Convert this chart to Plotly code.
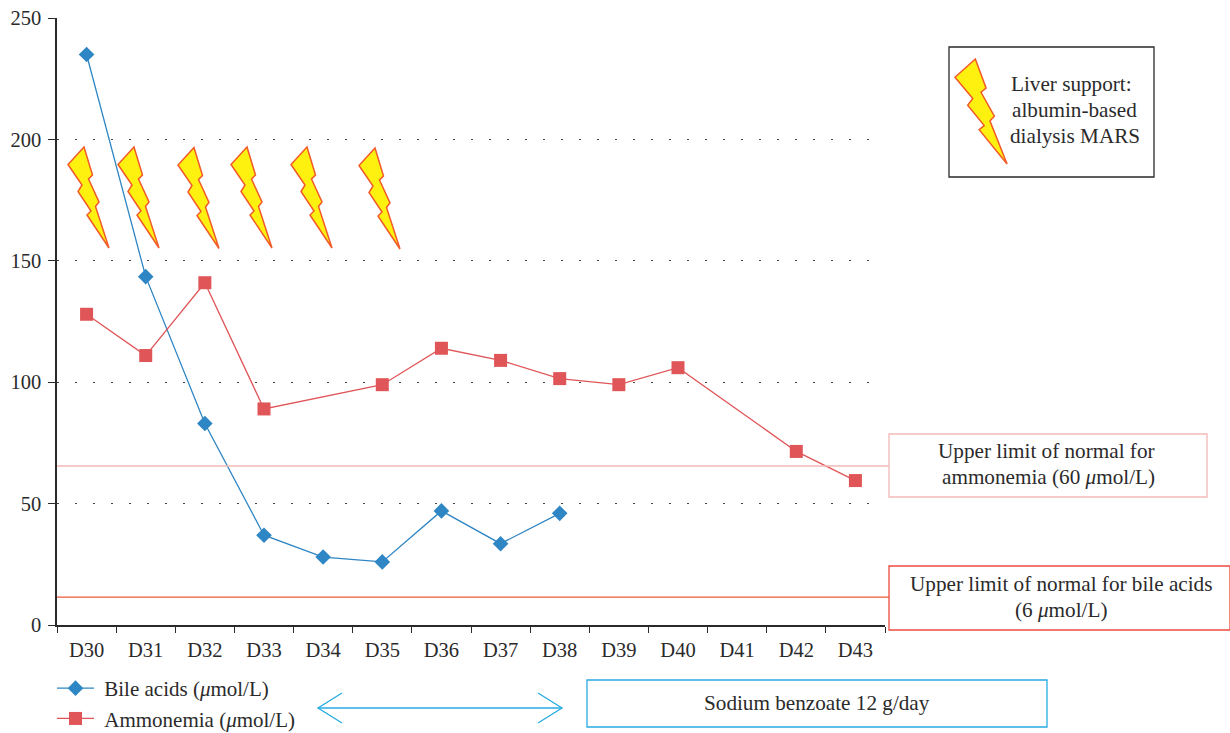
import plotly.graph_objects as go

days = ["D30","D31","D32","D33","D34","D35","D36","D37","D38","D39","D40","D41","D42","D43"]
bile_acids = [235, 143.5, 83, 37, 28, 26, 47, 33.5, 46, None, None, None, None, None]
ammonemia = [128, 111, 141, 89, None, 99, 114, 109, 101.5, 99, 106, None, 71.5, 59.5]
y_ticks = [0, 50, 100, 150, 200, 250]
limit_ammonemia_drawn = 65.5
limit_bile_drawn = 11.5

W, H = 1230, 733
L, R, T, B = 57, 885, 18, 625
TXT = "#2b2a2b"
FONT = "Liberation Serif"
FS = 20.5

def px(x): return (x - L) / (R - L)
def py(y): return (B - y) / (B - T)

BOLT = [(16,0),(0,17.5),(14,38),(10,44.5),(23,64),(19,68),(41,101),(27.5,59.5),(31,55),(20.5,32),(24.5,28)]
def bolt(x0, y0, sx=1.0, sy=1.0):
    pts = [(px(x0 + a*sx), py(y0 + b*sy)) for a, b in BOLT]
    path = "M " + " L ".join(f"{a:.5f},{b:.5f}" for a, b in pts) + " Z"
    return dict(type="path", xref="paper", yref="paper", path=path,
                fillcolor="#fff10f", line=dict(color="#f15a29", width=1.5), layer="above")

def rect(x0, y0, x1, y1, color, w=1.3):
    return dict(type="rect", xref="paper", yref="paper", x0=px(x0), x1=px(x1), y0=py(y0), y1=py(y1),
                line=dict(color=color, width=w), fillcolor="rgba(255,255,255,0)", layer="above")

def pline(pts, color, w=1.3):
    path = "M " + " L ".join(f"{px(a):.5f},{py(b):.5f}" for a, b in pts)
    return dict(type="path", xref="paper", yref="paper", path=path, line=dict(color=color, width=w), layer="above")

def note(x, y, text, size=21.2):
    return dict(xref="paper", yref="paper", x=px(x), y=py(y), text=text, showarrow=False,
                xanchor="center", yanchor="middle", align="center",
                font=dict(family=FONT, size=size, color=TXT))

fig = go.Figure()
fig.add_trace(go.Scatter(x=days, y=bile_acids, mode="lines+markers", name="\u00a0Bile acids (<i>μ</i>mol/L)",
                         line=dict(color="#2f86c4", width=1.3), connectgaps=False, legendgroup="a",
                         marker=dict(symbol="diamond", size=12, color="#2f86c4")))
fig.add_trace(go.Scatter(x=days, y=ammonemia, mode="lines+markers", name="\u00a0Ammonemia (<i>μ</i>mol/L)",
                         line=dict(color="#e05558", width=1.3), connectgaps=True, legendgroup="b",
                         marker=dict(symbol="square", size=13, color="#e05558")))

shapes = [bolt(x, y) for x, y in [(68,147),(118,147),(178,147.5),(231,147),(291,147),(359,148)]]
shapes.append(bolt(955, 59, 1.27, 1.04))
shapes += [
    dict(type="line", xref="paper", yref="y", x0=0, x1=px(889), y0=limit_ammonemia_drawn, y1=limit_ammonemia_drawn,
         line=dict(color="#f3b9b6", width=1.5)),
    dict(type="line", xref="paper", yref="y", x0=0, x1=px(889), y0=limit_bile_drawn, y1=limit_bile_drawn,
         line=dict(color="#ef5a3c", width=1.3)),
    rect(889, 434, 1207, 497, "#f3b9b6"),
    rect(889, 566, 1230, 630, "#ef4b3c"),
    rect(949, 47, 1154, 177, "#2b2a2b"),
    rect(587, 680, 1047, 727, "#29abe2"),
    pline([(318,708),(562,708)], "#29abe2"),
    pline([(342,693),(318,708),(342,723)], "#29abe2"),
    pline([(538,693),(562,708),(538,723)], "#29abe2"),
]

annotations = [
    note(1071, 84, "Liver support:"),
    note(1074, 110, "albumin-based"),
    note(1074.5, 136, "dialysis MARS"),
    note(1046, 451, "Upper limit of normal for"),
    note(1048, 477, "ammonemia (60 <i>μ</i>mol/L)"),
    note(1061, 584, "Upper limit of normal for bile acids"),
    note(1061, 610, "(6 <i>μ</i>mol/L)"),
    note(817, 703, "Sodium benzoate 12 g/day"),
]

fig.update_layout(
    width=W, height=H, margin=dict(l=L, r=W-R, t=T, b=H-B, pad=0, autoexpand=False),
    paper_bgcolor="white", plot_bgcolor="white",
    font=dict(family=FONT, size=FS, color=TXT),
    shapes=shapes, annotations=annotations,
    showlegend=True,
    legend=dict(x=px(52), y=py(668), xanchor="left", yanchor="top", bgcolor="rgba(0,0,0,0)",
                itemwidth=37, tracegroupgap=0, font=dict(family=FONT, size=21, color=TXT),
                borderwidth=0),
    xaxis=dict(type="category", categoryorder="array", categoryarray=days, range=[-0.5, 13.5],
               tickson="boundaries", ticks="outside", ticklen=6, tickwidth=1.3, tickcolor="#2b2a2b",
               showline=True, linecolor="#2b2a2b", linewidth=1.5, showgrid=False, zeroline=False,
               ticklabelstandoff=6, tickfont=dict(family=FONT, size=FS, color=TXT)),
    yaxis=dict(range=[0, 250.05], tickmode="array", tickvals=y_ticks, ticks="outside", ticklen=7,
               tickwidth=1.3, tickcolor="#2b2a2b", showline=True, linecolor="#2b2a2b", linewidth=1.5,
               showgrid=True, gridcolor="#444444", griddash="1.5px,16.5px", gridwidth=1.2, zeroline=False,
               ticklabelstandoff=3, tickfont=dict(family=FONT, size=FS, color=TXT)),
)
fig.write_html("out.html", config={"displayModeBar": False},
               post_script="document.body.style.margin='0';document.documentElement.style.overflow='hidden';")
